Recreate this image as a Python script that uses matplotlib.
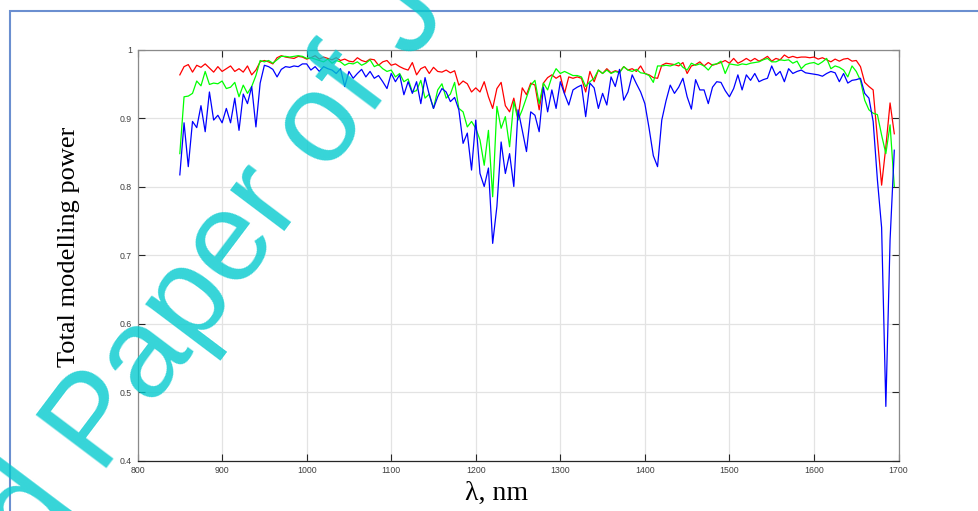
import matplotlib.pyplot as plt
import numpy as np
from matplotlib.patches import Rectangle

# wavelength grid, nm (5 nm step)
wavelength = np.arange(850, 1700, 5)

red_power = [
    0.963, 0.975, 0.978, 0.967, 0.977, 0.974, 0.979, 0.973, 0.967, 0.975,
    0.968, 0.972, 0.976, 0.968, 0.972, 0.967, 0.976, 0.963, 0.970, 0.982,
    0.984, 0.982, 0.979, 0.988, 0.991, 0.989, 0.988, 0.987, 0.990, 0.989,
    0.986,
    0.988, 0.991, 0.986, 0.989, 0.987, 0.985, 0.988, 0.984, 0.986, 0.983,
    0.982, 0.988, 0.984, 0.982, 0.986, 0.985, 0.977, 0.982, 0.984, 0.977,
    0.979, 0.975, 0.972, 0.970, 0.981, 0.963, 0.972, 0.975, 0.965, 0.974,
    0.968, 0.967, 0.970, 0.966, 0.969, 0.948, 0.954,
    0.950, 0.938, 0.944, 0.938, 0.953, 0.931, 0.914, 0.943, 0.952, 0.918,
    0.909, 0.929, 0.900, 0.944, 0.934, 0.951, 0.948, 0.912, 0.951, 0.959,
    0.963, 0.958, 0.962, 0.936, 0.960, 0.958, 0.960, 0.958, 0.938, 0.968,
    0.953, 0.970, 0.965, 0.972, 0.966, 0.969, 0.967, 0.975,
    0.970, 0.972, 0.968, 0.976, 0.965, 0.963, 0.959, 0.958, 0.977, 0.980,
    0.979, 0.978, 0.976, 0.981, 0.965, 0.976, 0.978, 0.982, 0.976, 0.981,
    0.977, 0.979, 0.981, 0.984, 0.980, 0.987, 0.980, 0.983, 0.987, 0.983,
    0.987, 0.983, 0.986, 0.990, 0.983, 0.987, 0.985, 0.992,
    0.988, 0.990, 0.988, 0.989, 0.989, 0.988, 0.989, 0.986, 0.988, 0.985,
    0.982, 0.986, 0.983, 0.986, 0.987, 0.983, 0.984, 0.975, 0.952, 0.946,
    0.941, 0.870, 0.802, 0.858, 0.922, 0.877,
]

green_power = [
    0.848, 0.931, 0.932, 0.936, 0.954, 0.947, 0.968, 0.949, 0.951, 0.950,
    0.954, 0.943, 0.945, 0.952, 0.931, 0.948, 0.936, 0.946, 0.962, 0.984,
    0.982, 0.984, 0.980, 0.985, 0.990, 0.990, 0.989, 0.990, 0.991, 0.990,
    0.987,
    0.988, 0.986, 0.984, 0.982, 0.986, 0.980, 0.984, 0.982, 0.977, 0.980,
    0.979, 0.982, 0.977, 0.980, 0.985, 0.975, 0.978, 0.972, 0.968, 0.970,
    0.960, 0.965, 0.953, 0.957, 0.938, 0.940, 0.955, 0.929, 0.935, 0.914,
    0.941, 0.950, 0.929, 0.935, 0.952, 0.914, 0.909,
    0.887, 0.895, 0.885, 0.868, 0.831, 0.882, 0.785, 0.917, 0.885, 0.902,
    0.858, 0.924, 0.897, 0.912, 0.930, 0.948, 0.955, 0.921, 0.951, 0.941,
    0.960, 0.972, 0.965, 0.968, 0.965, 0.962, 0.962, 0.960, 0.946, 0.953,
    0.958, 0.970, 0.965, 0.970, 0.965, 0.968, 0.966, 0.975,
    0.970, 0.968, 0.971, 0.966, 0.965, 0.962, 0.952, 0.976, 0.976, 0.977,
    0.976, 0.978, 0.981, 0.974, 0.970, 0.980, 0.977, 0.979, 0.976, 0.970,
    0.978, 0.979, 0.983, 0.965, 0.979, 0.978, 0.977, 0.979, 0.978, 0.980,
    0.981, 0.982, 0.985, 0.987, 0.982, 0.982, 0.985, 0.984,
    0.985, 0.980, 0.983, 0.972, 0.978, 0.980, 0.981, 0.978, 0.982, 0.987,
    0.972, 0.976, 0.974, 0.970, 0.960, 0.976, 0.968, 0.955, 0.926, 0.912,
    0.907, 0.905, 0.875, 0.848, 0.890, 0.800,
]

blue_power = [
    0.817, 0.893, 0.829, 0.895, 0.886, 0.918, 0.880, 0.938, 0.897, 0.904,
    0.893, 0.914, 0.893, 0.929, 0.882, 0.935, 0.921, 0.946, 0.887, 0.951,
    0.977, 0.975, 0.971, 0.960, 0.971, 0.975, 0.974, 0.976, 0.975, 0.979,
    0.979,
    0.970, 0.975, 0.968, 0.975, 0.972, 0.970, 0.965, 0.972, 0.946, 0.968,
    0.958, 0.965, 0.971, 0.960, 0.968, 0.958, 0.962, 0.953, 0.943, 0.965,
    0.953, 0.963, 0.934, 0.953, 0.936, 0.953, 0.921, 0.959, 0.934, 0.914,
    0.931, 0.943, 0.938, 0.924, 0.930, 0.912, 0.863,
    0.878, 0.824, 0.897, 0.819, 0.800, 0.827, 0.717, 0.771, 0.865, 0.819,
    0.848, 0.800, 0.912, 0.882, 0.851, 0.909, 0.904, 0.880, 0.945, 0.909,
    0.941, 0.914, 0.953, 0.935, 0.919, 0.941, 0.945, 0.948, 0.902, 0.951,
    0.944, 0.914, 0.936, 0.919, 0.960, 0.946, 0.971, 0.926,
    0.938, 0.963, 0.950, 0.938, 0.921, 0.885, 0.845, 0.829, 0.897, 0.925,
    0.948, 0.936, 0.945, 0.958, 0.931, 0.913, 0.956, 0.941, 0.941, 0.921,
    0.945, 0.953, 0.952, 0.940, 0.931, 0.943, 0.963, 0.941, 0.963, 0.955,
    0.965, 0.953, 0.956, 0.958, 0.976, 0.962, 0.968, 0.953,
    0.972, 0.965, 0.968, 0.970, 0.966, 0.965, 0.964, 0.963, 0.961, 0.965,
    0.968, 0.966, 0.953, 0.965, 0.951, 0.955, 0.956, 0.958, 0.936, 0.929,
    0.895, 0.810, 0.740, 0.479, 0.722, 0.853,
]

x_ticks = [800, 900, 1000, 1100, 1200, 1300, 1400, 1500, 1600, 1700]
y_ticks = [0.4, 0.5, 0.6, 0.7, 0.8, 0.9, 1.0]
y_tick_labels = ["0.4", "0.5", "0.6", "0.7", "0.8", "0.9", "1"]

fig = plt.figure(figsize=(9.79, 5.11), dpi=100)
ax = fig.add_axes([0.1405, 0.0988, 0.7773, 0.8043])

ax.plot(wavelength, red_power, color="#ff0000", lw=0.9)
ax.plot(wavelength, green_power, color="#00ff00", lw=0.9)
ax.plot(wavelength, blue_power, color="#0000ff", lw=0.9)

ax.set_xlim(800, 1700)
ax.set_ylim(0.4, 1.0)
ax.set_xticks(x_ticks)
ax.set_yticks(y_ticks)
ax.set_yticklabels(y_tick_labels)
ax.grid(True, color="#e3e3e3", lw=0.9)
ax.set_axisbelow(True)

ax.tick_params(direction="in", length=5, width=0.8, color="#262626",
               top=True, right=True, labelsize=6.3, labelcolor="#404040", pad=4)
for lab in ax.get_xticklabels() + ax.get_yticklabels():
    lab.set_family("Liberation Sans")
for side in ["top", "right", "left"]:
    ax.spines[side].set_color("#8a8a8a")
ax.spines["bottom"].set_color("#262626")
for sp in ax.spines.values():
    sp.set_linewidth(0.9)

ax.set_xlabel("\u03bb, nm", family="Liberation Serif", fontsize=20)
ax.set_ylabel("Total modelling power", family="Liberation Serif", fontsize=19)
ax.xaxis.set_label_coords(0.472, -0.05)
ax.yaxis.set_label_coords(-0.075, 0.52)

# page frame
fig.add_artist(Rectangle((10 / 979, -0.5), 1.5, 1.5 - 10.5 / 511,
                         transform=fig.transFigure, fill=False,
                         edgecolor="#6b8fd0", lw=1.5))

# watermark (semi-transparent, lines show through)
wm = dict(rotation=53, rotation_mode="anchor", va="baseline", fontsize=92,
          color="#03cace", alpha=0.8, family="Liberation Sans", zorder=10)
fig.text(100 / 979, 1 - 476 / 511, "Accepted ", ha="right", **wm)
fig.text(100 / 979, 1 - 476 / 511, "Paper of Journal", ha="left", **wm)

fig.savefig("out.png", dpi=100)
